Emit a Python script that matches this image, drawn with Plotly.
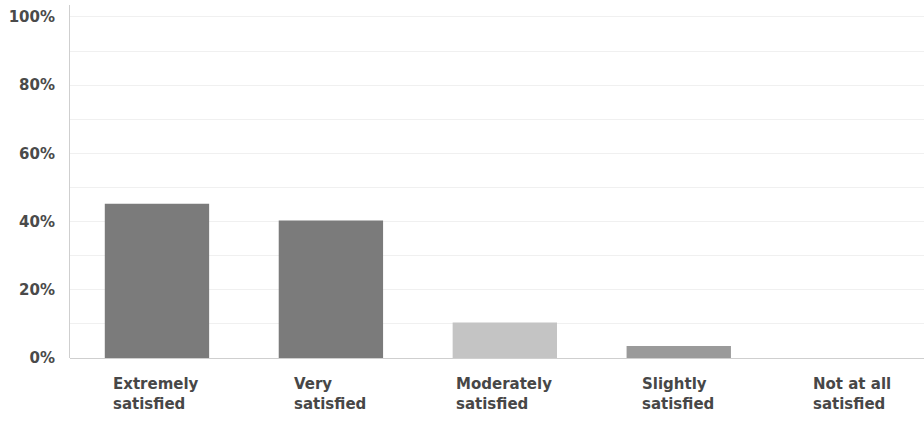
import plotly.graph_objects as go

# Survey responses: share of respondents per satisfaction level (%)
categories = ["Extremely satisfied", "Very satisfied", "Moderately satisfied",
              "Slightly satisfied", "Not at all satisfied"]
label_lines = ["Extremely<br>satisfied", "Very<br>satisfied", "Moderately<br>satisfied",
               "Slightly<br>satisfied", "Not at all<br>satisfied"]
shares = [45.2, 40.3, 10.4, 3.5, 0.0]
bar_colors = ["#7b7b7b", "#7b7b7b", "#c4c4c4", "#9a9a9a", "#9a9a9a"]
tick_values = [0, 20, 40, 60, 80, 100]
tick_labels = ["0%", "20%", "40%", "60%", "80%", "100%"]

FONT = "DejaVu Sans, Verdana, sans-serif"

fig = go.Figure(
    go.Bar(
        x=list(range(len(categories))),
        y=shares,
        width=0.6,
        marker=dict(color=bar_colors, line=dict(width=0)),
        hovertext=categories,
    )
)

# Two-line category labels, lines left-aligned within a centred block
for i, txt in enumerate(label_lines):
    fig.add_annotation(
        x=i, y=0, xref="x", yref="y",
        text=f"<b>{txt.replace('<br>', '</b><br><b>')}</b>", showarrow=False,
        xanchor="center", yanchor="top", align="left",
        xshift=-1, yshift=-15,
        font=dict(family=FONT, size=15, color="#474747"),
    )

fig.update_layout(
    width=924, height=427,
    margin=dict(l=70, r=0, t=5, b=69),
    paper_bgcolor="white", plot_bgcolor="white",
    showlegend=False,
    bargap=0.4,
)
fig.update_xaxes(
    range=[-0.5, 4.41],
    showticklabels=False, ticks="",
    showgrid=False, zeroline=False,
    showline=False,
)
fig.update_yaxes(
    range=[0, 103.5],
    tickvals=tick_values, ticktext=tick_labels,
    tickfont=dict(family=FONT, size=15, color="#4a4a4a", weight="bold"),
    ticklabelstandoff=11,
    showgrid=True, gridcolor="#f0f0f0", gridwidth=1,
    minor=dict(dtick=10, showgrid=True, gridcolor="#f0f0f0"),
    showline=True, linecolor="#cfcfcf", linewidth=1,
    zeroline=True, zerolinecolor="#cfcfcf", zerolinewidth=1,
)

fig.write_html("out.html")
